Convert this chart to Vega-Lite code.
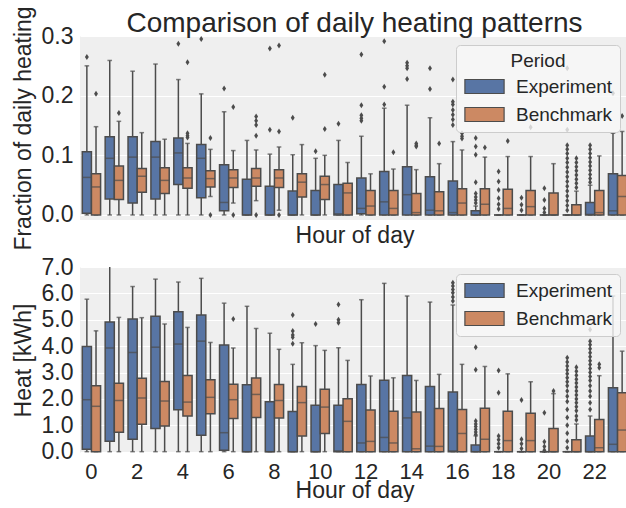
{
  "$schema": "https://vega.github.io/schema/vega-lite/v6.json",
  "background": "white",
  "padding": {"left": 12, "top": 5, "right": 0, "bottom": 0},
  "config": {
    "font": "Liberation Sans",
    "view": {"fill": "#EFEFEF", "stroke": null},
    "axis": {"grid": false, "domain": false, "ticks": false, "labelFont": "Liberation Sans", "labelFontSize": 22, "labelColor": "#262626", "titleFont": "Liberation Sans", "titleFontSize": 23, "titleFontWeight": "normal", "titleColor": "#262626"},
    "axisY": {"grid": true, "gridColor": "#FFFFFF", "gridWidth": 1.2, "labelPadding": 7, "titlePadding": 6, "labelFontSize": 23, "labelOverlap": false},
    "concat": {"spacing": 5},
    "legend": {"fillColor": "rgba(247,247,247,0.8)", "strokeColor": "#CCCCCC", "cornerRadius": 4, "padding": 7, "symbolType": "M-2.8,-1H2.8V1H-2.8Z", "symbolSize": 196, "symbolStrokeColor": "#4C4C4C", "symbolStrokeWidth": 1.2, "symbolOpacity": 1, "symbolOffset": 12, "labelOffset": 22, "labelFont": "Liberation Sans", "labelFontSize": 19, "labelColor": "#262626", "titleFont": "Liberation Sans", "titleFontSize": 19, "titleFontWeight": "normal", "titleColor": "#262626", "titleAnchor": "middle", "rowPadding": 8, "titlePadding": 6}
  },
  "datasets": {
    "fbox": [
      {"hour": 0, "period": "Experiment", "lower": 0, "q1": 0.003, "median": 0.063, "q3": 0.106, "upper": 0.250},
      {"hour": 0, "period": "Benchmark", "lower": 0, "q1": 0, "median": 0.047, "q3": 0.069, "upper": 0.148},
      {"hour": 1, "period": "Experiment", "lower": 0, "q1": 0.027, "median": 0.095, "q3": 0.131, "upper": 0.259},
      {"hour": 1, "period": "Benchmark", "lower": 0, "q1": 0.026, "median": 0.058, "q3": 0.082, "upper": 0.157},
      {"hour": 2, "period": "Experiment", "lower": 0, "q1": 0.020, "median": 0.097, "q3": 0.131, "upper": 0.241},
      {"hour": 2, "period": "Benchmark", "lower": 0, "q1": 0.038, "median": 0.065, "q3": 0.078, "upper": 0.138},
      {"hour": 3, "period": "Experiment", "lower": 0, "q1": 0.027, "median": 0.097, "q3": 0.123, "upper": 0.253},
      {"hour": 3, "period": "Benchmark", "lower": 0, "q1": 0.036, "median": 0.058, "q3": 0.079, "upper": 0.127},
      {"hour": 4, "period": "Experiment", "lower": 0, "q1": 0.051, "median": 0.104, "q3": 0.129, "upper": 0.227},
      {"hour": 4, "period": "Benchmark", "lower": 0, "q1": 0.045, "median": 0.062, "q3": 0.079, "upper": 0.120},
      {"hour": 5, "period": "Experiment", "lower": 0, "q1": 0.029, "median": 0.095, "q3": 0.118, "upper": 0.203},
      {"hour": 5, "period": "Benchmark", "lower": 0.031, "q1": 0.047, "median": 0.061, "q3": 0.074, "upper": 0.110},
      {"hour": 6, "period": "Experiment", "lower": 0, "q1": 0.007, "median": 0.021, "q3": 0.084, "upper": 0.173},
      {"hour": 6, "period": "Benchmark", "lower": 0.020, "q1": 0.046, "median": 0.062, "q3": 0.076, "upper": 0.108},
      {"hour": 7, "period": "Experiment", "lower": 0, "q1": 0, "median": 0, "q3": 0.060, "upper": 0.125},
      {"hour": 7, "period": "Benchmark", "lower": 0.024, "q1": 0.048, "median": 0.062, "q3": 0.078, "upper": 0.109},
      {"hour": 8, "period": "Experiment", "lower": 0, "q1": 0, "median": 0, "q3": 0.048, "upper": 0.102},
      {"hour": 8, "period": "Benchmark", "lower": 0.008, "q1": 0.046, "median": 0.062, "q3": 0.076, "upper": 0.114},
      {"hour": 9, "period": "Experiment", "lower": 0, "q1": 0, "median": 0, "q3": 0.040, "upper": 0.101},
      {"hour": 9, "period": "Benchmark", "lower": 0, "q1": 0.030, "median": 0.055, "q3": 0.069, "upper": 0.118},
      {"hour": 10, "period": "Experiment", "lower": 0, "q1": 0, "median": 0, "q3": 0.041, "upper": 0.095},
      {"hour": 10, "period": "Benchmark", "lower": 0, "q1": 0.026, "median": 0.051, "q3": 0.065, "upper": 0.100},
      {"hour": 11, "period": "Experiment", "lower": 0, "q1": 0, "median": 0.002, "q3": 0.051, "upper": 0.125},
      {"hour": 11, "period": "Benchmark", "lower": 0, "q1": 0, "median": 0.037, "q3": 0.053, "upper": 0.088},
      {"hour": 12, "period": "Experiment", "lower": 0, "q1": 0.002, "median": 0.011, "q3": 0.062, "upper": 0.132},
      {"hour": 12, "period": "Benchmark", "lower": 0, "q1": 0, "median": 0.015, "q3": 0.041, "upper": 0.069},
      {"hour": 13, "period": "Experiment", "lower": 0, "q1": 0, "median": 0.022, "q3": 0.073, "upper": 0.179},
      {"hour": 13, "period": "Benchmark", "lower": 0, "q1": 0, "median": 0.011, "q3": 0.041, "upper": 0.077},
      {"hour": 14, "period": "Experiment", "lower": 0, "q1": 0, "median": 0.034, "q3": 0.081, "upper": 0.184},
      {"hour": 14, "period": "Benchmark", "lower": 0, "q1": 0, "median": 0.004, "q3": 0.036, "upper": 0.076},
      {"hour": 15, "period": "Experiment", "lower": 0, "q1": 0, "median": 0.008, "q3": 0.064, "upper": 0.163},
      {"hour": 15, "period": "Benchmark", "lower": 0, "q1": 0, "median": 0.007, "q3": 0.039, "upper": 0.086},
      {"hour": 16, "period": "Experiment", "lower": 0, "q1": 0, "median": 0.004, "q3": 0.057, "upper": 0.123},
      {"hour": 16, "period": "Benchmark", "lower": 0, "q1": 0, "median": 0.020, "q3": 0.044, "upper": 0.109},
      {"hour": 17, "period": "Experiment", "lower": 0, "q1": 0, "median": 0, "q3": 0.007, "upper": 0.015},
      {"hour": 17, "period": "Benchmark", "lower": 0, "q1": 0, "median": 0.018, "q3": 0.044, "upper": 0.097},
      {"hour": 18, "period": "Experiment", "lower": 0, "q1": 0, "median": 0, "q3": 0, "upper": 0},
      {"hour": 18, "period": "Benchmark", "lower": 0, "q1": 0, "median": 0.011, "q3": 0.043, "upper": 0.098},
      {"hour": 19, "period": "Experiment", "lower": 0, "q1": 0, "median": 0, "q3": 0, "upper": 0},
      {"hour": 19, "period": "Benchmark", "lower": 0, "q1": 0, "median": 0.014, "q3": 0.041, "upper": 0.098},
      {"hour": 20, "period": "Experiment", "lower": 0, "q1": 0, "median": 0, "q3": 0, "upper": 0},
      {"hour": 20, "period": "Benchmark", "lower": 0, "q1": 0, "median": 0, "q3": 0.037, "upper": 0.086},
      {"hour": 21, "period": "Experiment", "lower": 0, "q1": 0, "median": 0, "q3": 0, "upper": 0},
      {"hour": 21, "period": "Benchmark", "lower": 0, "q1": 0, "median": 0, "q3": 0.017, "upper": 0.040},
      {"hour": 22, "period": "Experiment", "lower": 0, "q1": 0, "median": 0.001, "q3": 0.021, "upper": 0.050},
      {"hour": 22, "period": "Benchmark", "lower": 0, "q1": 0, "median": 0.004, "q3": 0.041, "upper": 0.099},
      {"hour": 23, "period": "Experiment", "lower": 0, "q1": 0, "median": 0.007, "q3": 0.069, "upper": 0.137},
      {"hour": 23, "period": "Benchmark", "lower": 0, "q1": 0, "median": 0.031, "q3": 0.066, "upper": 0.140}
    ],
    "fout": [
      {"hour": 0, "period": "Experiment", "value": 0.265},
      {"hour": 0, "period": "Benchmark", "value": 0.203},
      {"hour": 1, "period": "Benchmark", "value": 0.171},
      {"hour": 4, "period": "Experiment", "value": 0.287},
      {"hour": 4, "period": "Benchmark", "value": 0.256},
      {"hour": 4, "period": "Benchmark", "value": 0.137},
      {"hour": 4, "period": "Benchmark", "value": 0.133},
      {"hour": 4, "period": "Benchmark", "value": 0.130},
      {"hour": 5, "period": "Experiment", "value": 0.295},
      {"hour": 5, "period": "Benchmark", "value": 0.129},
      {"hour": 5, "period": "Benchmark", "value": 0.0},
      {"hour": 6, "period": "Experiment", "value": 0.212},
      {"hour": 6, "period": "Benchmark", "value": 0.181},
      {"hour": 6, "period": "Benchmark", "value": 0.0},
      {"hour": 7, "period": "Benchmark", "value": 0.165},
      {"hour": 7, "period": "Benchmark", "value": 0.158},
      {"hour": 7, "period": "Benchmark", "value": 0.151},
      {"hour": 7, "period": "Benchmark", "value": 0.133},
      {"hour": 7, "period": "Benchmark", "value": 0.0},
      {"hour": 8, "period": "Experiment", "value": 0.279},
      {"hour": 8, "period": "Experiment", "value": 0.143},
      {"hour": 8, "period": "Benchmark", "value": 0.284},
      {"hour": 8, "period": "Benchmark", "value": 0.140},
      {"hour": 8, "period": "Benchmark", "value": 0.0},
      {"hour": 9, "period": "Experiment", "value": 0.163},
      {"hour": 10, "period": "Experiment", "value": 0.107},
      {"hour": 10, "period": "Benchmark", "value": 0.235},
      {"hour": 10, "period": "Benchmark", "value": 0.144},
      {"hour": 11, "period": "Experiment", "value": 0.153},
      {"hour": 12, "period": "Experiment", "value": 0.269},
      {"hour": 12, "period": "Experiment", "value": 0.184},
      {"hour": 12, "period": "Experiment", "value": 0.167},
      {"hour": 12, "period": "Experiment", "value": 0.162},
      {"hour": 12, "period": "Experiment", "value": 0.158},
      {"hour": 13, "period": "Experiment", "value": 0.291},
      {"hour": 13, "period": "Experiment", "value": 0.215},
      {"hour": 13, "period": "Experiment", "value": 0.185},
      {"hour": 13, "period": "Benchmark", "value": 0.105},
      {"hour": 14, "period": "Experiment", "value": 0.255},
      {"hour": 14, "period": "Experiment", "value": 0.250},
      {"hour": 14, "period": "Experiment", "value": 0.246},
      {"hour": 14, "period": "Experiment", "value": 0.228},
      {"hour": 14, "period": "Benchmark", "value": 0.120},
      {"hour": 14, "period": "Benchmark", "value": 0.117},
      {"hour": 14, "period": "Benchmark", "value": 0.115},
      {"hour": 15, "period": "Experiment", "value": 0.246},
      {"hour": 15, "period": "Experiment", "value": 0.211},
      {"hour": 15, "period": "Benchmark", "value": 0.120},
      {"hour": 16, "period": "Experiment", "value": 0.227},
      {"hour": 16, "period": "Experiment", "value": 0.190},
      {"hour": 16, "period": "Experiment", "value": 0.185},
      {"hour": 16, "period": "Experiment", "value": 0.176},
      {"hour": 16, "period": "Experiment", "value": 0.168},
      {"hour": 16, "period": "Experiment", "value": 0.160},
      {"hour": 16, "period": "Experiment", "value": 0.151},
      {"hour": 16, "period": "Benchmark", "value": 0.137},
      {"hour": 16, "period": "Benchmark", "value": 0.132},
      {"hour": 16, "period": "Benchmark", "value": 0.128},
      {"hour": 17, "period": "Experiment", "value": 0.129},
      {"hour": 17, "period": "Experiment", "value": 0.115},
      {"hour": 17, "period": "Experiment", "value": 0.101},
      {"hour": 17, "period": "Experiment", "value": 0.055},
      {"hour": 17, "period": "Experiment", "value": 0.036},
      {"hour": 17, "period": "Experiment", "value": 0.030},
      {"hour": 17, "period": "Experiment", "value": 0.025},
      {"hour": 17, "period": "Experiment", "value": 0.020},
      {"hour": 17, "period": "Benchmark", "value": 0.113},
      {"hour": 18, "period": "Experiment", "value": 0.073},
      {"hour": 18, "period": "Experiment", "value": 0.056},
      {"hour": 18, "period": "Experiment", "value": 0.042},
      {"hour": 18, "period": "Experiment", "value": 0.028},
      {"hour": 18, "period": "Experiment", "value": 0.018},
      {"hour": 18, "period": "Experiment", "value": 0.010},
      {"hour": 18, "period": "Benchmark", "value": 0.124},
      {"hour": 19, "period": "Experiment", "value": 0.029},
      {"hour": 19, "period": "Experiment", "value": 0.017},
      {"hour": 19, "period": "Experiment", "value": 0.008},
      {"hour": 19, "period": "Benchmark", "value": 0.147},
      {"hour": 20, "period": "Experiment", "value": 0.045},
      {"hour": 20, "period": "Experiment", "value": 0.025},
      {"hour": 20, "period": "Experiment", "value": 0.011},
      {"hour": 20, "period": "Experiment", "value": 0.004},
      {"hour": 21, "period": "Experiment", "value": 0.246},
      {"hour": 21, "period": "Experiment", "value": 0.143},
      {"hour": 21, "period": "Experiment", "value": 0.117},
      {"hour": 21, "period": "Experiment", "value": 0.110},
      {"hour": 21, "period": "Experiment", "value": 0.103},
      {"hour": 21, "period": "Experiment", "value": 0.095},
      {"hour": 21, "period": "Experiment", "value": 0.088},
      {"hour": 21, "period": "Experiment", "value": 0.080},
      {"hour": 21, "period": "Experiment", "value": 0.072},
      {"hour": 21, "period": "Experiment", "value": 0.064},
      {"hour": 21, "period": "Experiment", "value": 0.056},
      {"hour": 21, "period": "Experiment", "value": 0.048},
      {"hour": 21, "period": "Experiment", "value": 0.040},
      {"hour": 21, "period": "Experiment", "value": 0.032},
      {"hour": 21, "period": "Experiment", "value": 0.024},
      {"hour": 21, "period": "Experiment", "value": 0.016},
      {"hour": 21, "period": "Experiment", "value": 0.008},
      {"hour": 21, "period": "Benchmark", "value": 0.095},
      {"hour": 21, "period": "Benchmark", "value": 0.088},
      {"hour": 21, "period": "Benchmark", "value": 0.081},
      {"hour": 21, "period": "Benchmark", "value": 0.074},
      {"hour": 21, "period": "Benchmark", "value": 0.067},
      {"hour": 21, "period": "Benchmark", "value": 0.060},
      {"hour": 21, "period": "Benchmark", "value": 0.053},
      {"hour": 21, "period": "Benchmark", "value": 0.046},
      {"hour": 22, "period": "Experiment", "value": 0.117},
      {"hour": 22, "period": "Experiment", "value": 0.110},
      {"hour": 22, "period": "Experiment", "value": 0.103},
      {"hour": 22, "period": "Experiment", "value": 0.096},
      {"hour": 22, "period": "Experiment", "value": 0.089},
      {"hour": 22, "period": "Experiment", "value": 0.082},
      {"hour": 22, "period": "Experiment", "value": 0.075},
      {"hour": 22, "period": "Experiment", "value": 0.068},
      {"hour": 22, "period": "Experiment", "value": 0.061},
      {"hour": 22, "period": "Experiment", "value": 0.055},
      {"hour": 23, "period": "Experiment", "value": 0.204},
      {"hour": 23, "period": "Benchmark", "value": 0.166}
    ],
    "hbox": [
      {"hour": 0, "period": "Experiment", "lower": 0, "q1": 0.09, "median": 1.97, "q3": 3.99, "upper": 5.78},
      {"hour": 0, "period": "Benchmark", "lower": 0, "q1": 0, "median": 1.72, "q3": 2.50, "upper": 4.58},
      {"hour": 1, "period": "Experiment", "lower": 0, "q1": 0.40, "median": 3.93, "q3": 4.92, "upper": 7.3},
      {"hour": 1, "period": "Benchmark", "lower": 0, "q1": 0.74, "median": 1.94, "q3": 2.59, "upper": 5.09},
      {"hour": 2, "period": "Experiment", "lower": 0, "q1": 0.47, "median": 3.76, "q3": 5.03, "upper": 6.26},
      {"hour": 2, "period": "Benchmark", "lower": 0, "q1": 1.04, "median": 2.03, "q3": 2.78, "upper": 5.08},
      {"hour": 3, "period": "Experiment", "lower": 0, "q1": 0.88, "median": 3.96, "q3": 5.13, "upper": 6.54},
      {"hour": 3, "period": "Benchmark", "lower": 0, "q1": 0.97, "median": 1.92, "q3": 2.66, "upper": 4.84},
      {"hour": 4, "period": "Experiment", "lower": 0, "q1": 1.59, "median": 4.08, "q3": 5.30, "upper": 6.43},
      {"hour": 4, "period": "Benchmark", "lower": 0, "q1": 1.35, "median": 1.88, "q3": 2.89, "upper": 4.71},
      {"hour": 5, "period": "Experiment", "lower": 0, "q1": 0.62, "median": 4.19, "q3": 5.18, "upper": 6.57},
      {"hour": 5, "period": "Benchmark", "lower": 0, "q1": 1.44, "median": 2.06, "q3": 2.73, "upper": 4.14},
      {"hour": 6, "period": "Experiment", "lower": 0, "q1": 0.05, "median": 0.72, "q3": 4.04, "upper": 5.63},
      {"hour": 6, "period": "Benchmark", "lower": 0, "q1": 1.26, "median": 1.97, "q3": 2.56, "upper": 3.93},
      {"hour": 7, "period": "Experiment", "lower": 0, "q1": 0, "median": 0, "q3": 2.54, "upper": 5.51},
      {"hour": 7, "period": "Benchmark", "lower": 0, "q1": 1.30, "median": 2.17, "q3": 2.79, "upper": 4.67},
      {"hour": 8, "period": "Experiment", "lower": 0, "q1": 0, "median": 0, "q3": 1.89, "upper": 4.49},
      {"hour": 8, "period": "Benchmark", "lower": 0, "q1": 1.28, "median": 1.94, "q3": 2.55, "upper": 3.88},
      {"hour": 9, "period": "Experiment", "lower": 0, "q1": 0, "median": 0, "q3": 1.52, "upper": 3.31},
      {"hour": 9, "period": "Benchmark", "lower": 0, "q1": 0.59, "median": 1.86, "q3": 2.47, "upper": 4.13},
      {"hour": 10, "period": "Experiment", "lower": 0, "q1": 0, "median": 0, "q3": 1.76, "upper": 4.02},
      {"hour": 10, "period": "Benchmark", "lower": 0, "q1": 0.69, "median": 1.69, "q3": 2.37, "upper": 3.84},
      {"hour": 11, "period": "Experiment", "lower": 0, "q1": 0, "median": 0.03, "q3": 1.76, "upper": 3.94},
      {"hour": 11, "period": "Benchmark", "lower": 0, "q1": 0, "median": 1.15, "q3": 2.01, "upper": 3.46},
      {"hour": 12, "period": "Experiment", "lower": 0, "q1": 0, "median": 0.33, "q3": 2.55, "upper": 5.76},
      {"hour": 12, "period": "Benchmark", "lower": 0, "q1": 0, "median": 0.39, "q3": 1.58, "upper": 2.87},
      {"hour": 13, "period": "Experiment", "lower": 0, "q1": 0, "median": 0.54, "q3": 2.71, "upper": 6.38},
      {"hour": 13, "period": "Benchmark", "lower": 0, "q1": 0, "median": 0.33, "q3": 1.53, "upper": 2.80},
      {"hour": 14, "period": "Experiment", "lower": 0, "q1": 0, "median": 1.28, "q3": 2.89, "upper": 5.90},
      {"hour": 14, "period": "Benchmark", "lower": 0, "q1": 0, "median": 0.11, "q3": 1.50, "upper": 2.70},
      {"hour": 15, "period": "Experiment", "lower": 0, "q1": 0, "median": 0.21, "q3": 2.47, "upper": 5.67},
      {"hour": 15, "period": "Benchmark", "lower": 0, "q1": 0, "median": 0.20, "q3": 1.64, "upper": 2.93},
      {"hour": 16, "period": "Experiment", "lower": 0, "q1": 0, "median": 0.03, "q3": 2.26, "upper": 5.56},
      {"hour": 16, "period": "Benchmark", "lower": 0, "q1": 0, "median": 0.69, "q3": 1.60, "upper": 3.31},
      {"hour": 17, "period": "Experiment", "lower": 0, "q1": 0, "median": 0, "q3": 0.25, "upper": 0.6},
      {"hour": 17, "period": "Benchmark", "lower": 0, "q1": 0, "median": 0.47, "q3": 1.65, "upper": 3.23},
      {"hour": 18, "period": "Experiment", "lower": 0, "q1": 0, "median": 0, "q3": 0, "upper": 0},
      {"hour": 18, "period": "Benchmark", "lower": 0, "q1": 0, "median": 0.42, "q3": 1.53, "upper": 2.95},
      {"hour": 19, "period": "Experiment", "lower": 0, "q1": 0, "median": 0, "q3": 0, "upper": 0},
      {"hour": 19, "period": "Benchmark", "lower": 0, "q1": 0, "median": 0.42, "q3": 1.46, "upper": 2.65},
      {"hour": 20, "period": "Experiment", "lower": 0, "q1": 0, "median": 0, "q3": 0, "upper": 0},
      {"hour": 20, "period": "Benchmark", "lower": 0, "q1": 0, "median": 0, "q3": 0.88, "upper": 2.2},
      {"hour": 21, "period": "Experiment", "lower": 0, "q1": 0, "median": 0, "q3": 0, "upper": 0},
      {"hour": 21, "period": "Benchmark", "lower": 0, "q1": 0, "median": 0, "q3": 0.45, "upper": 1.05},
      {"hour": 22, "period": "Experiment", "lower": 0, "q1": 0, "median": 0, "q3": 0.59, "upper": 1.35},
      {"hour": 22, "period": "Benchmark", "lower": 0, "q1": 0, "median": 0.15, "q3": 1.22, "upper": 2.88},
      {"hour": 23, "period": "Experiment", "lower": 0, "q1": 0, "median": 0.28, "q3": 2.42, "upper": 5.90},
      {"hour": 23, "period": "Benchmark", "lower": 0, "q1": 0, "median": 0.82, "q3": 2.23, "upper": 3.81}
    ],
    "hout": [
      {"hour": 6, "period": "Benchmark", "value": 5.03},
      {"hour": 9, "period": "Experiment", "value": 5.18},
      {"hour": 9, "period": "Experiment", "value": 4.57},
      {"hour": 9, "period": "Experiment", "value": 4.42},
      {"hour": 9, "period": "Experiment", "value": 4.34},
      {"hour": 9, "period": "Experiment", "value": 4.09},
      {"hour": 10, "period": "Experiment", "value": 4.84},
      {"hour": 11, "period": "Experiment", "value": 5.58},
      {"hour": 11, "period": "Experiment", "value": 5.00},
      {"hour": 11, "period": "Experiment", "value": 4.89},
      {"hour": 16, "period": "Experiment", "value": 6.40},
      {"hour": 16, "period": "Experiment", "value": 6.28},
      {"hour": 16, "period": "Experiment", "value": 6.15},
      {"hour": 16, "period": "Experiment", "value": 6.02},
      {"hour": 16, "period": "Experiment", "value": 5.86},
      {"hour": 16, "period": "Experiment", "value": 5.71},
      {"hour": 17, "period": "Experiment", "value": 3.96},
      {"hour": 17, "period": "Experiment", "value": 3.11},
      {"hour": 17, "period": "Experiment", "value": 1.16},
      {"hour": 17, "period": "Experiment", "value": 1.05},
      {"hour": 17, "period": "Experiment", "value": 0.95},
      {"hour": 17, "period": "Experiment", "value": 0.85},
      {"hour": 17, "period": "Experiment", "value": 0.75},
      {"hour": 17, "period": "Experiment", "value": 0.65},
      {"hour": 18, "period": "Experiment", "value": 3.08},
      {"hour": 18, "period": "Experiment", "value": 2.23},
      {"hour": 18, "period": "Experiment", "value": 0.59},
      {"hour": 18, "period": "Experiment", "value": 0.45},
      {"hour": 18, "period": "Experiment", "value": 0.30},
      {"hour": 18, "period": "Experiment", "value": 0.15},
      {"hour": 19, "period": "Experiment", "value": 1.96},
      {"hour": 19, "period": "Experiment", "value": 0.47},
      {"hour": 19, "period": "Experiment", "value": 0.30},
      {"hour": 19, "period": "Experiment", "value": 0.12},
      {"hour": 20, "period": "Experiment", "value": 1.48},
      {"hour": 20, "period": "Experiment", "value": 0.38},
      {"hour": 20, "period": "Experiment", "value": 0.20},
      {"hour": 20, "period": "Experiment", "value": 0.05},
      {"hour": 20, "period": "Benchmark", "value": 2.30},
      {"hour": 21, "period": "Experiment", "value": 3.56},
      {"hour": 21, "period": "Experiment", "value": 3.40},
      {"hour": 21, "period": "Experiment", "value": 3.25},
      {"hour": 21, "period": "Experiment", "value": 3.10},
      {"hour": 21, "period": "Experiment", "value": 2.95},
      {"hour": 21, "period": "Experiment", "value": 2.80},
      {"hour": 21, "period": "Experiment", "value": 2.65},
      {"hour": 21, "period": "Experiment", "value": 2.50},
      {"hour": 21, "period": "Experiment", "value": 2.30},
      {"hour": 21, "period": "Experiment", "value": 2.10},
      {"hour": 21, "period": "Experiment", "value": 1.90},
      {"hour": 21, "period": "Experiment", "value": 1.60},
      {"hour": 21, "period": "Experiment", "value": 1.30},
      {"hour": 21, "period": "Experiment", "value": 1.00},
      {"hour": 21, "period": "Experiment", "value": 0.70},
      {"hour": 21, "period": "Experiment", "value": 0.40},
      {"hour": 21, "period": "Experiment", "value": 0.15},
      {"hour": 21, "period": "Benchmark", "value": 3.20},
      {"hour": 21, "period": "Benchmark", "value": 3.05},
      {"hour": 21, "period": "Benchmark", "value": 2.90},
      {"hour": 21, "period": "Benchmark", "value": 2.75},
      {"hour": 21, "period": "Benchmark", "value": 2.60},
      {"hour": 21, "period": "Benchmark", "value": 2.45},
      {"hour": 21, "period": "Benchmark", "value": 2.30},
      {"hour": 21, "period": "Benchmark", "value": 2.15},
      {"hour": 21, "period": "Benchmark", "value": 2.00},
      {"hour": 21, "period": "Benchmark", "value": 1.85},
      {"hour": 21, "period": "Benchmark", "value": 1.70},
      {"hour": 21, "period": "Benchmark", "value": 1.55},
      {"hour": 21, "period": "Benchmark", "value": 1.35},
      {"hour": 21, "period": "Benchmark", "value": 1.20},
      {"hour": 22, "period": "Experiment", "value": 4.63},
      {"hour": 22, "period": "Experiment", "value": 4.19},
      {"hour": 22, "period": "Experiment", "value": 4.05},
      {"hour": 22, "period": "Experiment", "value": 3.90},
      {"hour": 22, "period": "Experiment", "value": 3.75},
      {"hour": 22, "period": "Experiment", "value": 3.60},
      {"hour": 22, "period": "Experiment", "value": 3.45},
      {"hour": 22, "period": "Experiment", "value": 3.30},
      {"hour": 22, "period": "Experiment", "value": 3.15},
      {"hour": 22, "period": "Experiment", "value": 3.00},
      {"hour": 22, "period": "Experiment", "value": 2.85},
      {"hour": 22, "period": "Experiment", "value": 2.70},
      {"hour": 22, "period": "Experiment", "value": 2.50},
      {"hour": 22, "period": "Experiment", "value": 2.30},
      {"hour": 22, "period": "Experiment", "value": 2.10},
      {"hour": 22, "period": "Experiment", "value": 1.85},
      {"hour": 22, "period": "Experiment", "value": 1.60},
      {"hour": 22, "period": "Benchmark", "value": 3.31},
      {"hour": 22, "period": "Benchmark", "value": 3.18}
    ]
  },
  "resolve": {"legend": {"color": "independent"}},
  "vconcat": [
    {
      "width": 549,
      "height": 184,
      "title": {"text": "Comparison of daily heating patterns", "fontSize": 28, "fontWeight": "normal", "color": "#262626", "font": "Liberation Sans", "anchor": "middle", "offset": 4, "dy": 36},
      "encoding": {
        "x": {"field": "hour", "type": "ordinal", "scale": {"domain": [0,1,2,3,4,5,6,7,8,9,10,11,12,13,14,15,16,17,18,19,20,21,22,23], "paddingInner": 0, "paddingOuter": 0}, "axis": {"labels": false, "title": "Hour of day", "titlePadding": 4}},
        "xOffset": {"field": "period", "type": "nominal", "scale": {"domain": ["Experiment", "Benchmark"], "paddingInner": 0, "paddingOuter": 0.25}}
      },
      "layer": [
        {"data": {"name": "fbox"}, "mark": {"type": "rule", "color": "#4C4C4C", "strokeWidth": 1.5, "clip": true},
         "encoding": {"y": {"field": "lower", "type": "quantitative", "scale": {"domain": [-0.0084, 0.3], "nice": false, "zero": false}, "axis": {"values": [0, 0.1, 0.2, 0.3], "format": ".1f", "labelOverlap": false, "title": "Fraction of daily heating"}}, "y2": {"field": "upper"}}},
        {"data": {"name": "fbox"}, "mark": {"type": "tick", "color": "#4C4C4C", "thickness": 1.5, "size": 4.6, "clip": true},
         "encoding": {"y": {"field": "upper", "type": "quantitative", "axis": {"values": [0, 0.1, 0.2, 0.3], "format": ".1f", "labelOverlap": false, "title": "Fraction of daily heating"}}}},
        {"data": {"name": "fbox"}, "mark": {"type": "tick", "color": "#4C4C4C", "thickness": 1.5, "size": 4.6, "clip": true},
         "encoding": {"y": {"field": "lower", "type": "quantitative", "axis": {"values": [0, 0.1, 0.2, 0.3], "format": ".1f", "labelOverlap": false, "title": "Fraction of daily heating"}}}},
        {"data": {"name": "fbox"}, "mark": {"type": "bar", "stroke": "#4C4C4C", "strokeWidth": 1.5, "opacity": 1, "clip": true},
         "encoding": {"y": {"field": "q1", "type": "quantitative", "axis": {"values": [0, 0.1, 0.2, 0.3], "format": ".1f", "labelOverlap": false, "title": "Fraction of daily heating"}}, "y2": {"field": "q3"},
           "color": {"field": "period", "type": "nominal", "scale": {"domain": ["Experiment", "Benchmark"], "range": ["#5875A4", "#CC8963"]}, "legend": {"title": "Period", "orient": "none", "legendX": 376, "legendY": 9}}}},
        {"data": {"name": "fbox"}, "mark": {"type": "tick", "color": "#4C4C4C", "thickness": 1.5, "size": 9.2, "clip": true},
         "encoding": {"y": {"field": "median", "type": "quantitative", "axis": {"values": [0, 0.1, 0.2, 0.3], "format": ".1f", "labelOverlap": false, "title": "Fraction of daily heating"}}}},
        {"data": {"name": "fout"}, "mark": {"type": "point", "shape": "M0,-1L0.65,0L0,1L-0.65,0Z", "filled": true, "color": "#4C4C4C", "opacity": 1, "size": 36, "clip": true},
         "encoding": {"y": {"field": "value", "type": "quantitative", "axis": {"values": [0, 0.1, 0.2, 0.3], "format": ".1f", "labelOverlap": false, "title": "Fraction of daily heating"}}}}
      ]
    },
    {
      "width": 549,
      "height": 186,
      "encoding": {
        "x": {"field": "hour", "type": "ordinal", "scale": {"domain": [0,1,2,3,4,5,6,7,8,9,10,11,12,13,14,15,16,17,18,19,20,21,22,23], "paddingInner": 0, "paddingOuter": 0}, "axis": {"values": [0,2,4,6,8,10,12,14,16,18,20,22], "labelAngle": 0, "labelPadding": 8, "title": "Hour of day", "titlePadding": -3}},
        "xOffset": {"field": "period", "type": "nominal", "scale": {"domain": ["Experiment", "Benchmark"], "paddingInner": 0, "paddingOuter": 0.25}}
      },
      "layer": [
        {"data": {"name": "hbox"}, "mark": {"type": "rule", "color": "#4C4C4C", "strokeWidth": 1.5, "clip": true},
         "encoding": {"y": {"field": "lower", "type": "quantitative", "scale": {"domain": [-0.05, 7], "nice": false, "zero": false}, "axis": {"values": [0,1,2,3,4,5,6,7], "format": ".1f", "labelOverlap": false, "title": "Heat [kWh]"}}, "y2": {"field": "upper"}}},
        {"data": {"name": "hbox"}, "mark": {"type": "tick", "color": "#4C4C4C", "thickness": 1.5, "size": 4.6, "clip": true},
         "encoding": {"y": {"field": "upper", "type": "quantitative", "axis": {"values": [0,1,2,3,4,5,6,7], "format": ".1f", "labelOverlap": false, "title": "Heat [kWh]"}}}},
        {"data": {"name": "hbox"}, "mark": {"type": "tick", "color": "#4C4C4C", "thickness": 1.5, "size": 4.6, "clip": true},
         "encoding": {"y": {"field": "lower", "type": "quantitative", "axis": {"values": [0,1,2,3,4,5,6,7], "format": ".1f", "labelOverlap": false, "title": "Heat [kWh]"}}}},
        {"data": {"name": "hbox"}, "mark": {"type": "bar", "stroke": "#4C4C4C", "strokeWidth": 1.5, "opacity": 1, "clip": true},
         "encoding": {"y": {"field": "q1", "type": "quantitative", "axis": {"values": [0,1,2,3,4,5,6,7], "format": ".1f", "labelOverlap": false, "title": "Heat [kWh]"}}, "y2": {"field": "q3"},
           "color": {"field": "period", "type": "nominal", "scale": {"domain": ["Experiment", "Benchmark"], "range": ["#5875A4", "#CC8963"]}, "legend": {"title": null, "orient": "none", "legendX": 376, "legendY": 7}}}},
        {"data": {"name": "hbox"}, "mark": {"type": "tick", "color": "#4C4C4C", "thickness": 1.5, "size": 9.2, "clip": true},
         "encoding": {"y": {"field": "median", "type": "quantitative", "axis": {"values": [0,1,2,3,4,5,6,7], "format": ".1f", "labelOverlap": false, "title": "Heat [kWh]"}}}},
        {"data": {"name": "hout"}, "mark": {"type": "point", "shape": "M0,-1L0.65,0L0,1L-0.65,0Z", "filled": true, "color": "#4C4C4C", "opacity": 1, "size": 36, "clip": true},
         "encoding": {"y": {"field": "value", "type": "quantitative", "axis": {"values": [0,1,2,3,4,5,6,7], "format": ".1f", "labelOverlap": false, "title": "Heat [kWh]"}}}}
      ]
    }
  ]
}
